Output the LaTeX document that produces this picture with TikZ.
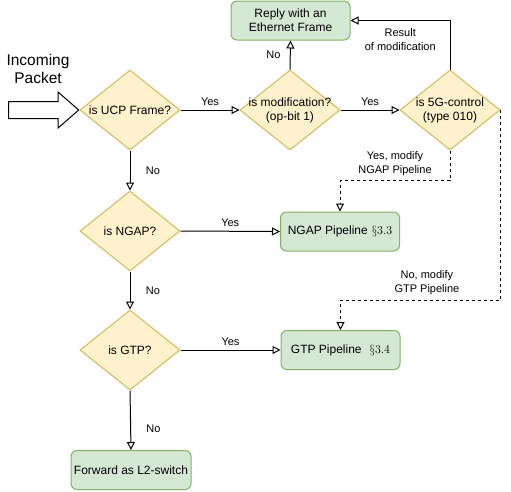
\documentclass[tikz,border=0pt]{standalone}
\usepackage{fontspec}
\setmainfont{Liberation Sans}
\usetikzlibrary{arrows.meta, positioning, shapes.geometric, shapes.arrows}

\definecolor{yellowfill}{HTML}{FFF2CC}
\definecolor{yellowline}{HTML}{D6B656}
\definecolor{greenfill}{HTML}{D5E8D4}
\definecolor{greenline}{HTML}{82B366}

\begin{document}
\begin{tikzpicture}[x=1pt, y=-1pt,
  txt/.style={font=\fontsize{12}{14}\selectfont, align=center},
  lbl/.style={font=\fontsize{11}{14}\selectfont, align=center},
  decision/.style={diamond, draw=yellowline, fill=yellowfill, line width=1pt,
    minimum width=100pt, minimum height=80pt, inner sep=0pt},
  pipebox/.style={draw=greenline, fill=greenfill, line width=1pt, rounded corners=6pt,
    minimum width=119pt, minimum height=39pt, inner sep=0pt, txt},
  flow/.style={draw, line width=1pt, -{Triangle[open, length=8pt, width=8pt]}}]
  \useasboundingbox (0,0) rectangle (511,491);

  % Decisions
  \node[decision, label={[txt]center:is UCP Frame?}] (ucp) at (130,110) {};
  \node[decision, label={[txt]center:is modification?\\(op-bit 1)}] (mod) at (290,110) {};
  \node[decision, label={[txt]center:is 5G-control\\(type 010)}] (fiveg) at (450,110) {};
  \node[decision, label={[txt]center:is NGAP?}] (ngap) at (130,231) {};
  \node[decision, label={[txt]center:is GTP?}] (gtp) at (130,350) {};

  % Result boxes
  \node[pipebox] (reply) at (290.5,20.5) {Reply with an\\Ethernet Frame};
  \node[pipebox] (ngapbox) at (340,231.5) {NGAP Pipeline\hspace{4pt}$\S3.3$};
  \node[pipebox] (gtpbox) at (340.5,350) {GTP Pipeline\hspace{8pt}$\S3.4$};
  \node[pipebox, minimum width=120pt] (fwd) at (131,470) {Forward as L2-switch};

  % Incoming packet
  \node[font=\fontsize{15.5}{18.5}\selectfont, align=center] (intext) at (38,69) {Incoming\\Packet};
  \node[single arrow, draw, line width=1pt, fill=white, inner xsep=0pt, inner ysep=8pt,
    minimum height=70pt, single arrow head extend=9.5pt, single arrow tip angle=82,
    anchor=tip] (inarrow) at (ucp.west) {};

  % Top row
  \draw[flow] (ucp.east) -- node[lbl, above=1pt] {Yes} (mod.west);
  \draw[flow] (mod.east) -- node[lbl, above=1pt] {Yes} (fiveg.west);
  \draw[flow] (mod.north) -- node[lbl, left=6pt] {No} (reply.south);
  \draw[flow] (fiveg.north) |- node[lbl, pos=0.75, below=4pt] {Result\\of modification} (reply.east);

  % Modify paths
  \draw[flow, dashed] (fiveg.south) -- ++(0,30) coordinate (bendngap)
    -| node[lbl, pos=0.25, above=1pt] {Yes, modify\\NGAP Pipeline} (ngapbox.north);
  \draw[flow, dashed] (fiveg.east) -- ++(0,190) coordinate (bendgtp)
    -| node[lbl, pos=0.23, above=1pt] {No, modify\\GTP Pipeline} (gtpbox.north);

  % Left column
  \draw[flow] (ucp.south) -- node[lbl, right=12pt] {No} (ngap.north);
  \draw[flow] (ngap.east) -- node[lbl, above=1pt] {Yes} (ngapbox.west);
  \draw[flow] (ngap.south) -- node[lbl, right=12pt] {No} (gtp.north);
  \draw[flow] (gtp.east) -- node[lbl, above=1pt] {Yes} (gtpbox.west);
  \draw[flow] (gtp.south) -- node[lbl, pos=0.65, right=12pt] {No} (fwd.north);
\end{tikzpicture}
\end{document}
